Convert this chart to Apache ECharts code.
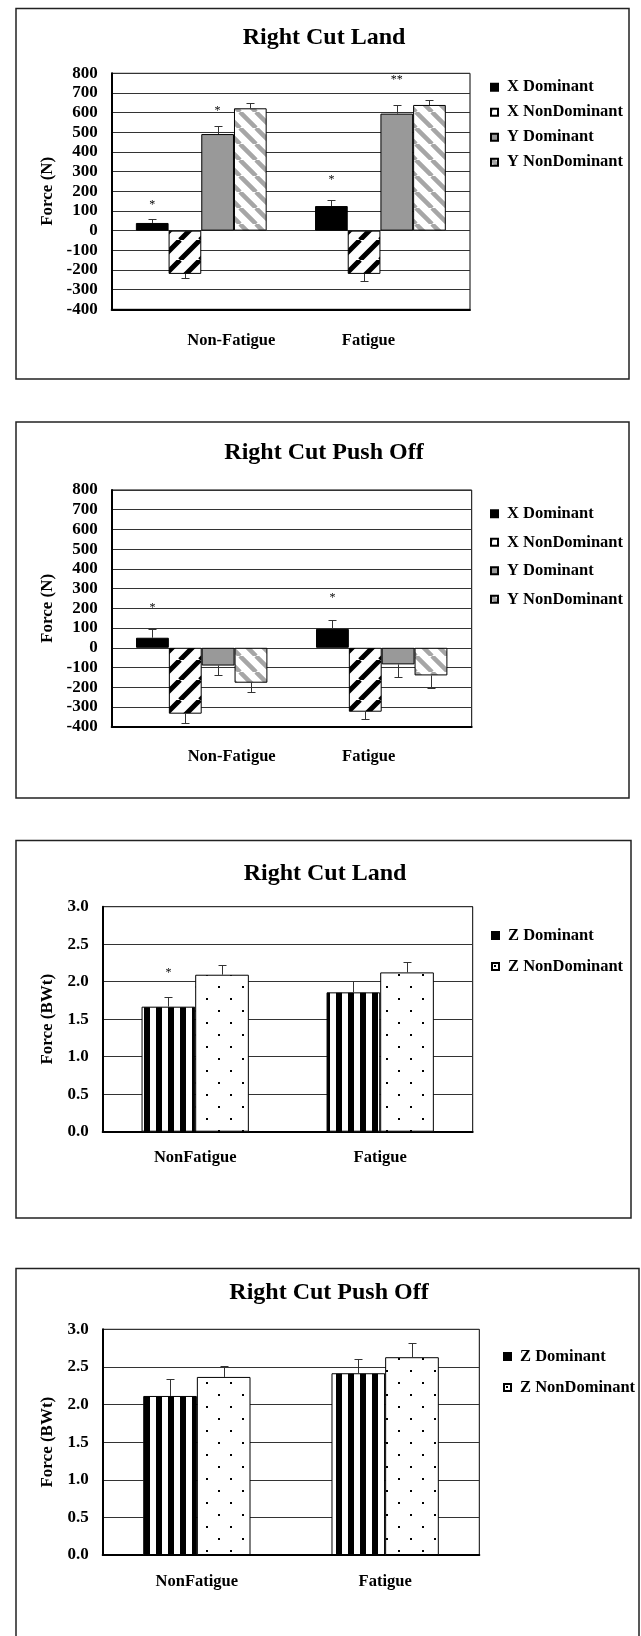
<!DOCTYPE html>
<html>
<head>
<meta charset="utf-8">
<script src="https://cdn.jsdelivr.net/npm/echarts@6/dist/echarts.min.js"></script>
<style>
html,body{margin:0;padding:0;background:#fff;}
#c{width:641px;height:1636px;}
</style>
</head>
<body>
<div id="c"></div>
<script>
// ---------- DATA ----------
const CATS_XY = ['Non-Fatigue', 'Fatigue'];
const CATS_Z = ['NonFatigue', 'Fatigue'];
const NAMES_XY = ['X Dominant', 'X NonDominant', 'Y Dominant', 'Y NonDominant'];
const NAMES_Z = ['Z Dominant', 'Z NonDominant'];

// Chart 1: Right Cut Land (N)
const land_xDom = [39, 125];       const land_xDomErr = [20, 33];
const land_xNonDom = [-220, -220]; const land_xNonDomErr = [22, 38];
const land_yDom = [491, 595];      const land_yDomErr = [39, 44];
const land_yNonDom = [622, 639];   const land_yNonDomErr = [29, 25];
const land_starCat = [0, 0, 1, 1];
const land_starBar = [0, 2, 0, 2];
const land_starY = [146, 624, 273, 781];
const land_starText = ['*', '*', '*', '**'];

// Chart 2: Right Cut Push Off (N)
const push_xDom = [51, 96];        const push_xDomErr = [42, 43];
const push_xNonDom = [-334, -324]; const push_xNonDomErr = [46, 39];
const push_yDom = [-90, -84];      const push_yDomErr = [50, 63];
const push_yNonDom = [-177, -140]; const push_yNonDomErr = [46, 66];
const push_starCat = [0, 1];
const push_starBar = [0, 0];
const push_starY = [220, 270];
const push_starText = ['*', '*'];

// Chart 3: Right Cut Land (BWt)
const landZ_dom = [1.667, 1.858];    const landZ_domErr = [0.124, 0.146];
const landZ_nonDom = [2.093, 2.124]; const landZ_nonDomErr = [0.125, 0.143];
const landZ_starCat = [0];
const landZ_starBar = [0];
const landZ_starY = [2.164];
const landZ_starText = ['*'];

// Chart 4: Right Cut Push Off (BWt)
const pushZ_dom = [2.114, 2.416];    const pushZ_domErr = [0.226, 0.186];
const pushZ_nonDom = [2.367, 2.629]; const pushZ_nonDomErr = [0.151, 0.195];

// Tick settings
const TICKS_N = {min: -400, max: 800, interval: 100};
const TICKS_BW = {min: 0, max: 3, interval: 0.5};

// ---------- STYLE ----------
const FONT = '"Liberation Serif", "Times New Roman", serif';

function makeCanvas(w, h, draw) {
  const c = document.createElement('canvas');
  c.width = w; c.height = h;
  const ctx = c.getContext('2d');
  ctx.fillStyle = '#fff'; ctx.fillRect(0, 0, w, h);
  draw(ctx);
  return {image: c, repeat: 'repeat'};
}
function diag(P, w, color, up) {
  return makeCanvas(P, P, ctx => {
    ctx.strokeStyle = color; ctx.lineWidth = w;
    ctx.beginPath();
    for (let k = -1; k <= 1; k++) {
      if (up) { ctx.moveTo(k * P, P); ctx.lineTo(k * P + P, 0); }
      else { ctx.moveTo(k * P, 0); ctx.lineTo(k * P + P, P); }
    }
    ctx.stroke();
  });
}
const PAT_XND = diag(20, 5, '#000', true);
const PAT_YND = diag(16, 4.5, '#a6a6a6', false);
const PAT_VERT = makeCanvas(12, 4, ctx => { ctx.fillStyle = '#000'; ctx.fillRect(0, 0, 6, 4); });
const PAT_DOTS = makeCanvas(24, 24, ctx => {
  ctx.fillStyle = '#000';
  ctx.fillRect(2, 2, 2, 2);
  ctx.fillRect(14, 14, 2, 2);
});
const FILLS_XY = ['#000', PAT_XND, '#999999', PAT_YND];
const FILLS_Z = [PAT_VERT, PAT_DOTS];

// ---------- LAYOUT ----------
const GRIDS = [
  {left: 111.7, top: 73.3, width: 358.3, height: 236},
  {left: 111.7, top: 490, width: 360, height: 236.7},
  {left: 102.7, top: 906.7, width: 370, height: 225},
  {left: 102.7, top: 1329.3, width: 376.6, height: 225.7}
];
const GAPS = [0.27, 0.27, 0.42, 0.43];

function barOffsetX(api, cx, n, gap, sIdx) {
  const bw = api.size([1, 0])[0];
  const total = bw * (1 - gap);
  const w = total / n;
  return cx - total / 2 + (sIdx + 0.5) * w;
}

function errSeries(gi, sIdx, n, vals, errs) {
  const gap = GAPS[gi];
  return {
    type: 'custom', xAxisIndex: gi, yAxisIndex: gi, z: 5, silent: true,
    data: vals.map((v, i) => [i, v, errs[i]]),
    encode: {x: 0, y: 1},
    renderItem: (params, api) => {
      const cat = api.value(0), v = api.value(1), e = api.value(2);
      const p0 = api.coord([cat, v]);
      const p1 = api.coord([cat, v >= 0 ? v + e : v - e]);
      const x = Math.round(barOffsetX(api, p0[0], n, gap, sIdx)) + 0.5;
      const y1 = Math.round(p1[1]) + 0.5;
      return {type: 'group', children: [
        {type: 'line', shape: {x1: x, y1: p0[1], x2: x, y2: y1}, style: {stroke: '#333', lineWidth: 1}},
        {type: 'line', shape: {x1: x - 4, y1: y1, x2: x + 4, y2: y1}, style: {stroke: '#333', lineWidth: 1}}
      ]};
    }
  };
}

function starSeries(gi, n, cats, bars, ys, texts) {
  const gap = GAPS[gi];
  return {
    type: 'custom', xAxisIndex: gi, yAxisIndex: gi, z: 6, silent: true,
    data: cats.map((c, i) => [c, ys[i]]),
    encode: {x: 0, y: 1},
    renderItem: (params, api) => {
      const p = api.coord([api.value(0), api.value(1)]);
      const x = barOffsetX(api, p[0], n, gap, bars[params.dataIndex]);
      return {type: 'text', x: x, y: p[1] + 3, style: {
        text: texts[params.dataIndex], fill: '#000', fontSize: 12, fontFamily: FONT,
        align: 'center', verticalAlign: 'middle', textAlign: 'center', textVerticalAlign: 'middle'
      }};
    }
  };
}

function barSeries(gi, name, data, fill) {
  return {
    type: 'bar', name: name, xAxisIndex: gi, yAxisIndex: gi, data: data,
    barGap: '0%', barCategoryGap: (GAPS[gi] * 100) + '%', z: 2,
    itemStyle: {color: fill, borderColor: '#000', borderWidth: 1},
    emphasis: {disabled: true}
  };
}

function xAxis(gi, cats, margin, shifts) {
  const rich = {};
  cats.forEach((c, i) => {
    const s = shifts[i];
    rich['c' + i] = {fontFamily: FONT, fontWeight: 'bold', fontSize: 16.5, color: '#000',
      padding: s >= 0 ? [0, 0, 0, 2 * s] : [0, -2 * s, 0, 0]};
  });
  return {
    type: 'category', gridIndex: gi, data: cats,
    axisTick: {show: false},
    axisLine: {show: true, onZero: false, lineStyle: {color: '#000', width: 2}},
    axisLabel: {margin: margin, fontFamily: FONT, fontWeight: 'bold', fontSize: 16.5, color: '#000',
      formatter: (v, i) => '{c' + i + '|' + v + '}', rich: rich}
  };
}

function yAxis(gi, ticks, name, nameGap, dec) {
  return {
    type: 'value', gridIndex: gi, min: ticks.min, max: ticks.max, interval: ticks.interval,
    axisLine: {show: true, lineStyle: {color: '#000', width: 2}},
    axisTick: {show: false},
    splitLine: {show: true, lineStyle: {color: '#333', width: 1}},
    axisLabel: {margin: 14, fontFamily: FONT, fontWeight: 'bold', fontSize: 17, color: '#000',
      formatter: v => dec ? v.toFixed(1) : String(v)},
    name: name, nameLocation: 'middle', nameGap: nameGap, nameRotate: 90,
    nameTextStyle: {fontFamily: FONT, fontWeight: 'bold', fontSize: 17, color: '#000'}
  };
}

function legend(names, left, top, gap) {
  return {
    data: names, orient: 'vertical', left: left, top: top, itemGap: gap, padding: 0,
    itemWidth: 7, itemHeight: 7, icon: 'rect', selectedMode: false,
    textStyle: {fontFamily: FONT, fontWeight: 'bold', fontSize: 16.5, color: '#000', lineHeight: 16, padding: [0, 0, 0, 4]}
  };
}

function title(text, cx, top) {
  return {text: text, left: cx, top: top, textAlign: 'center', padding: 0,
    textStyle: {fontFamily: FONT, fontWeight: 'bold', fontSize: 24, color: '#000', lineHeight: 24}};
}

function box(x, y, w, h) {
  return {type: 'rect', shape: {x: x, y: y, width: w, height: h}, silent: true,
    style: {fill: 'none', stroke: '#222', lineWidth: 1.5}};
}

const series = [];
const xyData1 = [land_xDom, land_xNonDom, land_yDom, land_yNonDom];
const xyErr1 = [land_xDomErr, land_xNonDomErr, land_yDomErr, land_yNonDomErr];
const xyData2 = [push_xDom, push_xNonDom, push_yDom, push_yNonDom];
const xyErr2 = [push_xDomErr, push_xNonDomErr, push_yDomErr, push_yNonDomErr];
NAMES_XY.forEach((n, i) => series.push(barSeries(0, n, xyData1[i], FILLS_XY[i])));
NAMES_XY.forEach((n, i) => series.push(errSeries(0, i, 4, xyData1[i], xyErr1[i])));
series.push(starSeries(0, 4, land_starCat, land_starBar, land_starY, land_starText));
NAMES_XY.forEach((n, i) => series.push(barSeries(1, n, xyData2[i], FILLS_XY[i])));
NAMES_XY.forEach((n, i) => series.push(errSeries(1, i, 4, xyData2[i], xyErr2[i])));
series.push(starSeries(1, 4, push_starCat, push_starBar, push_starY, push_starText));
const zData3 = [landZ_dom, landZ_nonDom], zErr3 = [landZ_domErr, landZ_nonDomErr];
const zData4 = [pushZ_dom, pushZ_nonDom], zErr4 = [pushZ_domErr, pushZ_nonDomErr];
NAMES_Z.forEach((n, i) => series.push(barSeries(2, n, zData3[i], FILLS_Z[i])));
NAMES_Z.forEach((n, i) => series.push(errSeries(2, i, 2, zData3[i], zErr3[i])));
series.push(starSeries(2, 2, landZ_starCat, landZ_starBar, landZ_starY, landZ_starText));
NAMES_Z.forEach((n, i) => series.push(barSeries(3, n, zData4[i], FILLS_Z[i])));
NAMES_Z.forEach((n, i) => series.push(errSeries(3, i, 2, zData4[i], zErr4[i])));

const chart = echarts.init(document.getElementById('c'), null, {renderer: 'canvas'});
chart.setOption({
  animation: false,
  backgroundColor: '#fff',
  title: [
    title('Right Cut Land', 324, 25.5),
    title('Right Cut Push Off', 324, 440.5),
    title('Right Cut Land', 325, 861.5),
    title('Right Cut Push Off', 329, 1280.5)
  ],
  legend: [
    legend(NAMES_XY, 490, 78.7, 8),
    legend(NAMES_XY, 490, 505.3, 11.5),
    legend(NAMES_Z, 491, 927, 14),
    legend(NAMES_Z, 503, 1348, 14)
  ],
  grid: GRIDS.map(g => Object.assign({show: true, borderColor: '#000', borderWidth: 1, containLabel: false}, g)),
  xAxis: [
    xAxis(0, CATS_XY, 23, [30, -12]),
    xAxis(1, CATS_XY, 22, [30, -13]),
    xAxis(2, CATS_Z, 18, [0, 0]),
    xAxis(3, CATS_Z, 18, [0, 0])
  ],
  yAxis: [
    yAxis(0, TICKS_N, 'Force (N)', 56, false),
    yAxis(1, TICKS_N, 'Force (N)', 56, false),
    yAxis(2, TICKS_BW, 'Force (BWt)', 46, true),
    yAxis(3, TICKS_BW, 'Force (BWt)', 46, true)
  ],
  graphic: [
    box(16, 8.5, 613, 370.5),
    box(16, 422, 613, 376),
    box(16, 840.5, 615, 377.5),
    box(16, 1268.5, 623, 380)
  ],
  series: series
});
</script>
</body>
</html>
